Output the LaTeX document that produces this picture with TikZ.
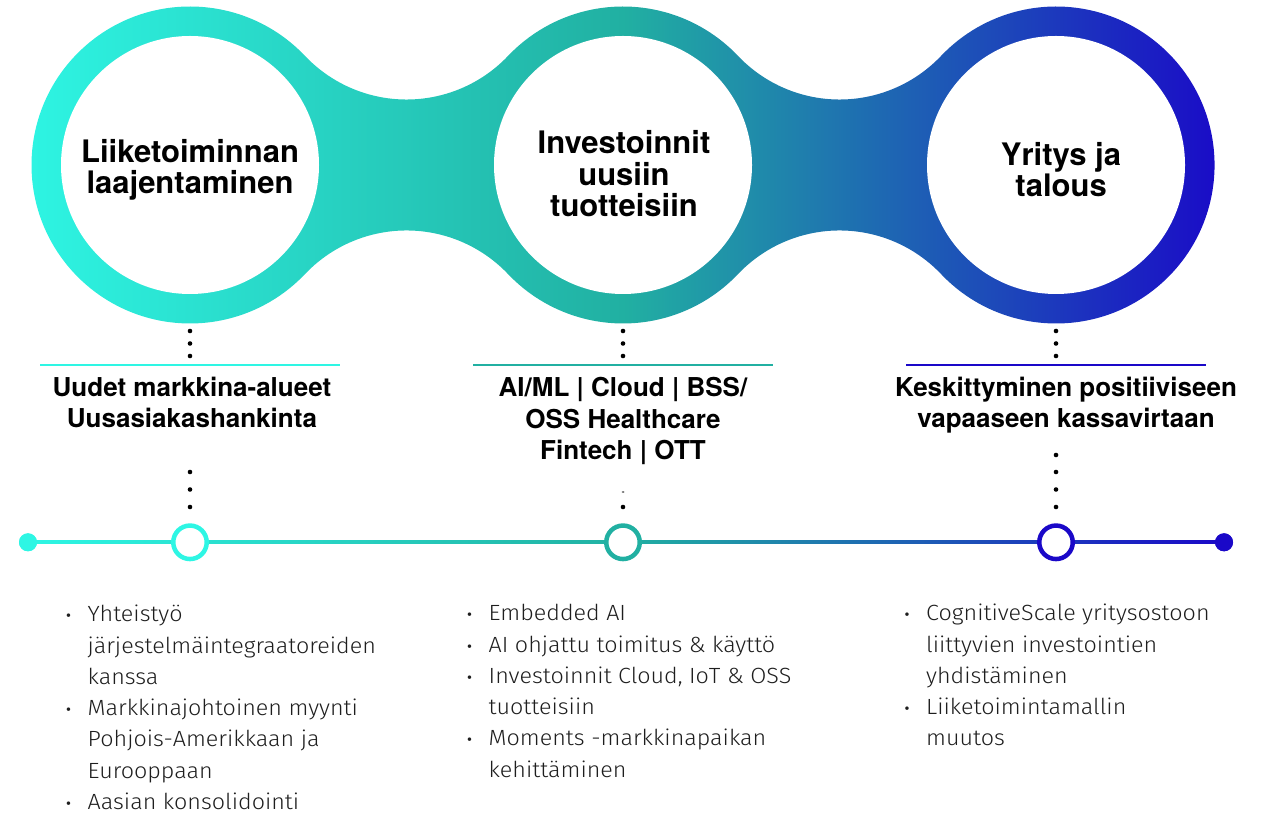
\documentclass[tikz,border=0pt]{standalone}
\usepackage{fontspec}
\setmainfont{TeX Gyre Heros}
\newfontfamily\bodyfont{Fira Sans}[UprightFont=* Light, FakeStretch=1.06]
\definecolor{aqua}{HTML}{2EF6E4}
\definecolor{tealmid}{HTML}{21B0A2}
\definecolor{deepblue}{HTML}{1A08C8}
\definecolor{txt}{HTML}{1E1E1E}
\newcommand{\blt}{\raisebox{1pt}{\normalfont\fontsize{14}{14}\selectfont •}}

\begin{document}
\begin{tikzpicture}[x=1pt,y=1pt,
hole/.style={circle, fill=white, minimum size=258pt, inner sep=0pt},
title/.style={font=\fontsize{31}{31.5}\selectfont\bfseries, align=center, inner sep=0pt, anchor=base},
subtitle/.style={font=\fontsize{26}{31.5}\selectfont\bfseries, align=center, inner sep=0pt, anchor=base},
itemlist/.style={font=\bodyfont\fontsize{22}{31.3}\selectfont, inner sep=0pt, anchor=base west, text=txt},
rule/.style={line width=2.5pt},
ring/.style={circle, fill=white, line width=4.5pt, minimum size=33.5pt, inner sep=0pt},
enddot/.style={circle, inner sep=0pt, minimum size=18pt},
grad/.style={left color=aqua, right color=deepblue, middle color=tealmid}
]
\useasboundingbox (0,0) rectangle (1268,814);

\shade[grad]
  (190,649) ++(43.5:158.5)
  arc[start angle=43.5, end angle=316.5, radius=158.5]
  arc[start angle=136.5, end angle=43.5, radius=140]
  arc[start angle=223.5, end angle=316.5, radius=158.5]
  arc[start angle=136.5, end angle=43.5, radius=140]
  arc[start angle=223.5, end angle=496.5, radius=158.5]
  arc[start angle=316.5, end angle=223.5, radius=140]
  arc[start angle=43.5, end angle=136.5, radius=158.5]
  arc[start angle=316.5, end angle=223.5, radius=140]
  -- cycle;

\node[hole] (c1) at (190,649) {};
\node[hole] (c2) at (623,649) {};
\node[hole] (c3) at (1056,649) {};

\node[title] (t1) at (190,620) {Liiketoiminnan\\laajentaminen};
\node[title] (t2) at (624,597) {Investoinnit\\uusiin\\tuotteisiin};
\node[title] (t3) at (1061,617) {Yritys ja\\talous};

\foreach \x in {190,623,1056}
  \foreach \y in {483,470.5,458}
    \fill (\x,\y) circle[radius=2.3];

\draw[rule, aqua] (40,449) -- (340,449);
\draw[rule, tealmid] (473,449) -- (773,449);
\draw[rule, deepblue] (906,449) -- (1206,449);

\node[subtitle] (s1) at (192,386) {Uudet markkina-alueet\\Uusasiakashankinta};
\node[subtitle] (s2) at (623,354) {AI/ML | Cloud | BSS/\\OSS Healthcare\\Fintech | OTT};
\node[subtitle] (s3) at (1066,386) {Keskittyminen positiiviseen\\vapaaseen kassavirtaan};

\foreach \y in {342,324.5,307}
  \fill (190,\y) circle[radius=2.3];
\foreach \y in {359,342,324.5,307}
  \fill (1056,\y) circle[radius=2.3];
\fill (623,307) circle[radius=2.3];
\fill (623,322) ellipse[x radius=1.5, y radius=0.6];

\node[enddot, fill=aqua] (e1) at (28,271.7) {};
\node[enddot, fill=deepblue] (e2) at (1224,271.7) {};
\shade[grad]
  ([yshift=-1.3pt]e1.center) rectangle ([yshift=1.3pt]e2.center);
\fill[aqua] (e1) circle[radius=9];
\fill[deepblue] (e2) circle[radius=9];

\node[ring, draw=aqua] (m1) at (190,271.7) {};
\node[ring, draw=tealmid] (m2) at (623,271.7) {};
\node[ring, draw=deepblue] (m3) at (1056,271.7) {};

\node[itemlist] (l1) at (66,192.3) {\begin{tabular}[t]{@{}p{21.5pt}@{}l@{}}
\blt & Yhteistyö\\
 & järjestelmäintegraatoreiden\\
 & kanssa\\
\blt & Markkinajohtoinen myynti\\
 & Pohjois-Amerikkaan ja\\
 & Eurooppaan\\
\blt & Aasian konsolidointi
\end{tabular}};
\node[itemlist] (l2) at (467,193.3) {\begin{tabular}[t]{@{}p{21.5pt}@{}l@{}}
\blt & Embedded AI\\
\blt & AI ohjattu toimitus \& käyttö\\
\blt & Investoinnit Cloud, IoT \& OSS\\
 & tuotteisiin\\
\blt & Moments -markkinapaikan\\
 & kehittäminen
\end{tabular}};
\node[itemlist] (l3) at (904.5,193.3) {\begin{tabular}[t]{@{}p{21.5pt}@{}l@{}}
\blt & CognitiveScale yritysostoon\\
 & liittyvien investointien\\
 & yhdistäminen\\
\blt & Liiketoimintamallin\\
 & muutos
\end{tabular}};
\end{tikzpicture}
\end{document}
